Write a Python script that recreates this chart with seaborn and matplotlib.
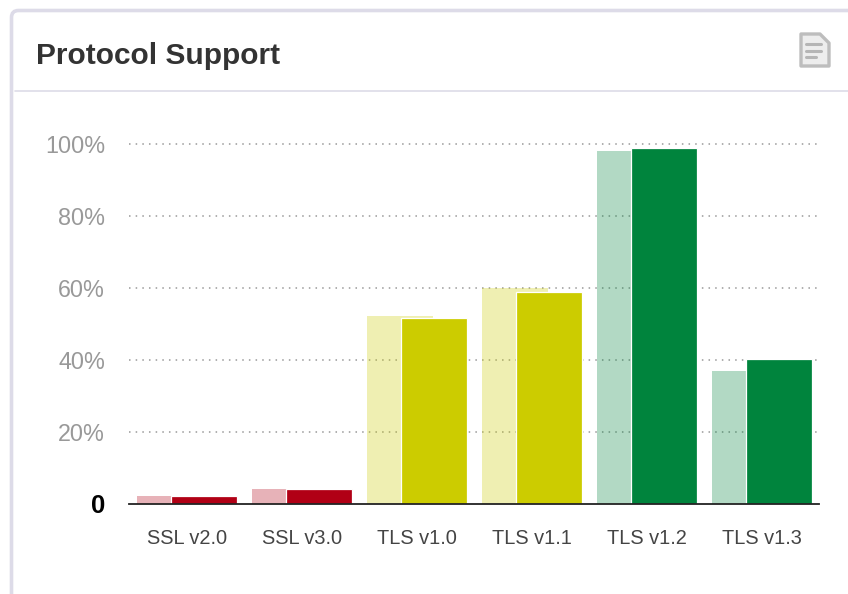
import matplotlib
matplotlib.use("Agg")
import matplotlib.pyplot as plt
from matplotlib.patches import FancyBboxPatch, Polygon
from matplotlib.lines import Line2D
from matplotlib.transforms import IdentityTransform
import pandas as pd
import seaborn as sns

protocols = ["SSL v2.0", "SSL v3.0", "TLS v1.0", "TLS v1.1", "TLS v1.2", "TLS v1.3"]
previous = [2.0, 3.9, 52.2, 60.0, 98.1, 36.9]
current = [2.2, 4.1, 51.7, 58.8, 98.9, 40.1]
bar_colors = ["#b10015", "#b10015", "#cccc00", "#cccc00", "#00843d", "#00843d"]
y_ticks = [0, 20, 40, 60, 80, 100]
y_labels = ["0", "20%", "40%", "60%", "80%", "100%"]

W, H = 848, 594

sns.set_theme(style="white")
plt.rcParams["font.family"] = ["Liberation Sans", "DejaVu Sans"]

df = pd.DataFrame({
    "protocol": protocols * 2,
    "support": previous + current,
    "period": ["previous"] * 6 + ["current"] * 6,
})

fig = plt.figure(figsize=(W / 100, H / 100), dpi=100, facecolor="white")


def px(x, y):
    # figure fraction from pixels measured from the top left
    return x / W, 1 - y / H


# card frame, in display pixels
card = FancyBboxPatch((11.5, -40), W + 40, H + 40 - 10.5, boxstyle="round,pad=0,rounding_size=7",
                      transform=IdentityTransform(), fc="white", ec="#dddbe8", lw=2.6, zorder=-2)
fig.add_artist(card)
fig.add_artist(Line2D([px(15, 0)[0], 1], [px(0, 90.5)[1]] * 2, color="#dddbe8", lw=1.2, zorder=-1))

x0, y0 = px(36, 53)
fig.text(x0, y0, "Protocol Support", fontsize=21.5, fontweight="bold", color="#333333", va="center_baseline", ha="left")

# document icon in the header
icon = [px(801, 34), px(820, 34), px(829, 43), px(829, 66), px(801, 66)]
fig.add_artist(Polygon(icon, closed=True, transform=fig.transFigure, fc="#ededed", ec="#bdbdbd",
                       lw=2.4, joinstyle="round", zorder=-1))
for yy, x_end in [(44, 821), (51, 821), (57, 816)]:
    fig.add_artist(Line2D([px(806, 0)[0], px(x_end, 0)[0]], [px(0, yy)[1]] * 2, color="#b5b5b5", lw=2.2))

# chart area, 100% sits at y=144 and 0 at y=503.5
left, bottom = px(129.4, 503.5)
top = px(0, 503.5 - 105 * 3.595)[1]
ax = fig.add_axes([left, bottom, 690 / W, top - bottom], facecolor="none")

sns.barplot(data=df, x="protocol", y="support", hue="period", hue_order=["previous", "current"],
            width=0.5913, gap=-0.941, legend=False, errorbar=None, ax=ax)

for bar, c in zip(ax.containers[0], bar_colors):
    bar.set_facecolor(c)
    bar.set_alpha(0.3)
    bar.set_edgecolor("none")
for bar, c in zip(ax.containers[1], bar_colors):
    bar.set_facecolor(c)
    bar.set_edgecolor("white")
    bar.set_linewidth(0.9)

ax.set_xlim(-0.5, 5.5)
ax.set_ylim(0, 105)
ax.set_xlabel("")
ax.set_ylabel("")
ax.set_yticks(y_ticks)
ax.set_yticklabels(y_labels)
ax.tick_params(axis="y", length=0, pad=17.6, labelsize=16.8, labelcolor="#999999")
ax.tick_params(axis="x", length=0, pad=18.2, labelsize=14.4, labelcolor="#444444")
zero = ax.get_yticklabels()[0]
zero.set_fontweight("bold")
zero.set_fontsize(18.5)
zero.set_color("black")

ax.set_axisbelow(True)
for t in y_ticks[1:]:
    ax.axhline(t, color="#999999", lw=1.1, ls=(0, (1, 3.36)), zorder=0)

sns.despine(ax=ax, left=True, right=True, top=True)
ax.spines["bottom"].set_color("#222222")
ax.spines["bottom"].set_linewidth(1.3)

fig.savefig("out.png", dpi=100)
